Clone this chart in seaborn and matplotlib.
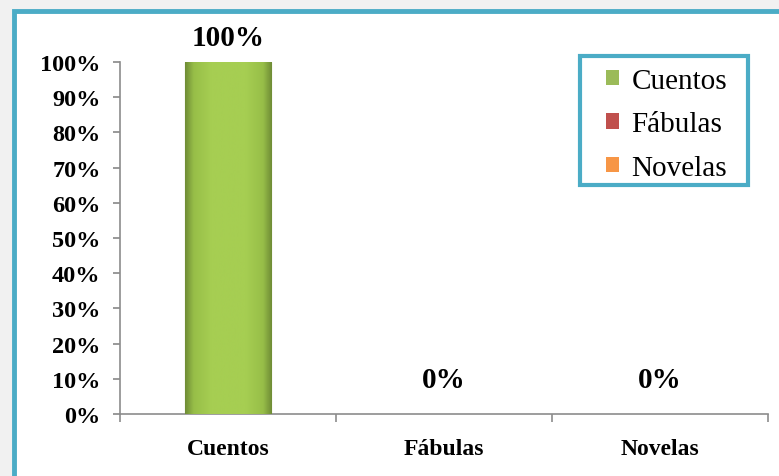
import numpy as np
import pandas as pd
import seaborn as sns
import matplotlib.pyplot as plt
from matplotlib.patches import Rectangle
from matplotlib.ticker import PercentFormatter
from matplotlib.colors import LinearSegmentedColormap

# --- DATA ---
categories = ['Cuentos', 'Fábulas', 'Novelas']
values = [1.00, 0.00, 0.00]
value_labels = ['100%', '0%', '0%']
colors = ['#9BBB59', '#C0504D', '#F79646']

df = pd.DataFrame({'tipo': categories, 'valor': values})

# --- STYLE ---
sns.set_theme(style="white")
plt.rcParams['font.family'] = ['Liberation Serif', 'DejaVu Serif']
teal = '#4BACC6'

fig = plt.figure(figsize=(7.79, 4.77), dpi=100, facecolor='#f1f1f1')
# white panel with teal frame (only top and left edges visible)
panel = Rectangle((14 / 779, -0.5), 2, 1.5 - 12 / 477,
                  transform=fig.transFigure, facecolor='white',
                  edgecolor=teal, linewidth=3.5, zorder=-10)
fig.add_artist(panel)

ax = fig.add_axes([120 / 779, 1 - 415 / 477, 648 / 779, 352 / 477])
ax.set_facecolor('none')
ax.set_zorder(5)

sns.barplot(data=df, x='tipo', y='valor', hue='tipo', palette=colors,
            width=0.4, dodge=False, legend=False, ax=ax)

# gradient fill on the green bar
cmap = LinearSegmentedColormap.from_list(
    'g', [(0, '#6F8C36'), (0.1, '#97BE48'), (0.3, '#A6CE52'),
          (0.7, '#A6CE52'), (0.9, '#97BE48'), (1, '#6F8C36')])
for bar in ax.patches:
    if bar.get_height() > 0:
        x0, w, h = bar.get_x(), bar.get_width(), bar.get_height()
        grad = np.linspace(0, 1, 256).reshape(1, -1)
        im = ax.imshow(grad, cmap=cmap, aspect='auto', extent=[x0, x0 + w, 0, h], zorder=3)
        im.set_clip_path(bar)
        bar.set_edgecolor('#6E8B35')
        bar.set_linewidth(0.8)

# value labels
offsets = [18, 25, 25]
for i, (v, lab) in enumerate(zip(values, value_labels)):
    ax.annotate(lab, (i, v), xytext=(0, offsets[i]), textcoords='offset points',
                ha='center', va='center', fontsize=21, fontweight='bold', color='black')

ax.set_xlim(-0.5, 2.5)
ax.set_ylim(0, 1)
ax.set_yticks(np.arange(0, 1.01, 0.1))
ax.yaxis.set_major_formatter(PercentFormatter(1.0, decimals=0))
ax.set_xticks([0, 1, 2])
ax.set_xticks([-0.5, 0.5, 1.5, 2.5], minor=True)
ax.set_xlabel('')
ax.set_ylabel('')

for s in ['top', 'right']:
    ax.spines[s].set_visible(False)
for s in ['left', 'bottom']:
    ax.spines[s].set_color('#8c8c8c')
    ax.spines[s].set_linewidth(1.2)

ax.tick_params(axis='y', which='major', left=True, length=5, color='#8c8c8c',
               labelsize=17.5, pad=9)
ax.tick_params(axis='x', which='major', bottom=False, length=0, labelsize=17, pad=17)
ax.tick_params(axis='x', which='minor', bottom=True, length=6, color='#8c8c8c', width=1.2)
for t in ax.get_xticklabels() + ax.get_yticklabels():
    t.set_fontweight('bold')
    t.set_color('black')

# legend (frameless) plus a teal box around it
handles = [Rectangle((0, 0), 1, 1, facecolor=c, edgecolor='none') for c in colors]
leg = ax.legend(handles, categories, loc='upper left',
                bbox_to_anchor=(606 / 779, 1 - 69 / 477), bbox_transform=fig.transFigure,
                frameon=False, fontsize=21, handlelength=0.45, handleheight=0.45,
                handletextpad=0.42, labelspacing=0.6, borderpad=0, borderaxespad=0)
for txt in leg.get_texts():
    txt.set_color('black')
fig.add_artist(Rectangle((580 / 779, 1 - 186 / 477), 168 / 779, 129 / 477,
                         transform=fig.transFigure, facecolor='white',
                         edgecolor=teal, linewidth=3, zorder=4))

fig.savefig('out.png', dpi=100, facecolor=fig.get_facecolor())
